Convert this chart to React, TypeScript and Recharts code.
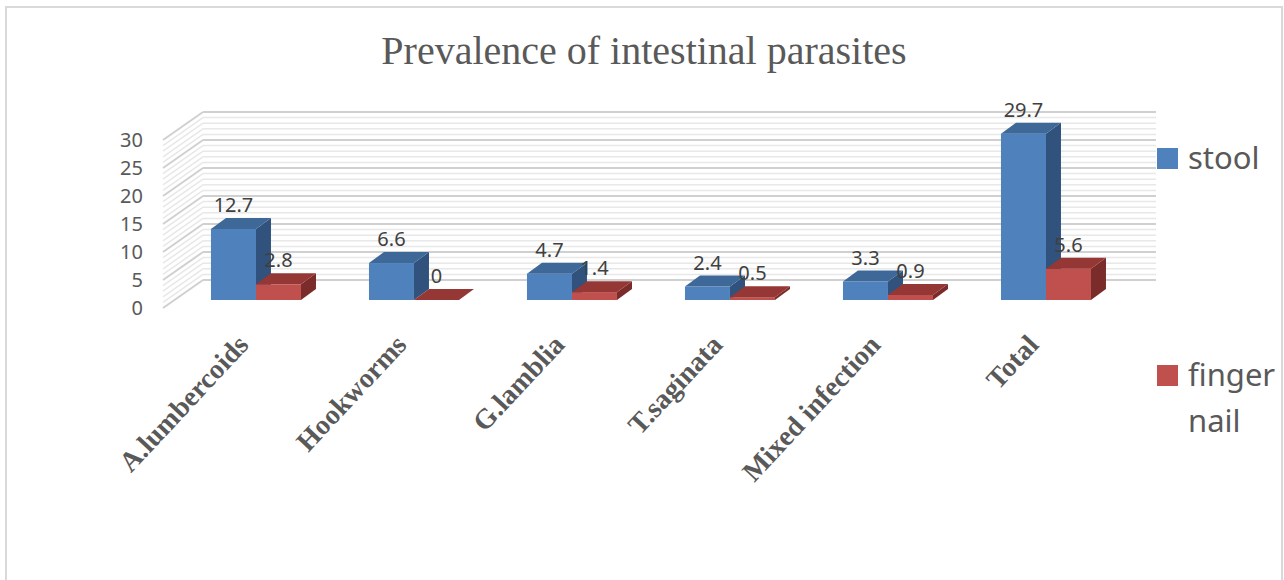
import { BarChart, Bar, XAxis, YAxis, CartesianGrid, LabelList, Legend, ReferenceLine } from 'recharts';

const categories = ['A.lumbercoids', 'Hookworms', 'G.lamblia', 'T.saginata', 'Mixed infection', 'Total'];
const stool = [12.7, 6.6, 4.7, 2.4, 3.3, 29.7];
const fingerNail = [2.8, 0, 1.4, 0.5, 0.9, 5.6];
const yTicks = [0, 5, 10, 15, 20, 25, 30];
const minorTicks = [1, 2, 3, 4, 6, 7, 8, 9, 11, 12, 13, 14, 16, 17, 18, 19, 21, 22, 23, 24, 26, 27, 28, 29];

const data = categories.map((name, i) => ({ name, stool: stool[i], fingerNail: fingerNail[i] }));

const BLUE = { front: '#4f81bd', top: '#3d6898', side: '#30527c' };
const RED = { front: '#c0504d', top: '#943735', side: '#7a2c2b' };
const DX = 15;
const DY = -11;

const makeBar3D = (c: typeof BLUE) => (props: any) => {
  const { x, y, width, height } = props;
  const b = y + height;
  return (
    <g>
      <rect x={x} y={y} width={width} height={Math.max(height, 0)} fill={c.front} />
      <polygon points={`${x + width},${y} ${x + width + DX},${y + DY} ${x + width + DX},${b + DY} ${x + width},${b}`} fill={c.side} />
      <polygon points={`${x},${y} ${x + DX},${y + DY} ${x + width + DX},${y + DY} ${x + width},${y}`} fill={c.top} />
    </g>
  );
};

// back wall + left side wall, shifted off the bar plane
const wallLine = (color: string, w: number) => (p: any) => (
  <g key={p.key}>
    <line x1={p.x1 + 26} y1={p.y1 - 20} x2={p.x2 + 31} y2={p.y1 - 20} stroke={color} strokeWidth={w} />
    <line x1={p.x1 - 14} y1={p.y1 + 8} x2={p.x1 + 26} y2={p.y1 - 20} stroke={color} strokeWidth={w} />
  </g>
);

const YTick = (props: any) => {
  const { x, y, payload } = props;
  return (
    <text x={x} y={y + 8} dy={7} textAnchor="end" fill="#595959" fontSize={20} fontFamily="'Noto Sans', sans-serif">
      {payload.value}
    </text>
  );
};

const XTick = (props: any) => {
  const { x, y, payload } = props;
  return (
    <text
      transform={`translate(${x - 6},${y + 46}) rotate(-47)`}
      textAnchor="end"
      fill="#595959"
      fontSize={28}
      fontWeight="bold"
      fontFamily="'Liberation Serif', serif"
    >
      {payload.value}
    </text>
  );
};

const LegendBox = () => (
  <div style={{ fontFamily: "'Noto Sans', sans-serif", fontSize: 31, color: '#595959', lineHeight: '46px' }}>
    <div style={{ position: 'absolute', left: 1157, top: 134, display: 'flex', alignItems: 'baseline' }}>
      <span style={{ display: 'inline-block', width: 21, height: 21, background: BLUE.front, marginRight: 10 }} />
      <span>stool</span>
    </div>
    <div style={{ position: 'absolute', left: 1157, top: 351, display: 'flex', alignItems: 'baseline' }}>
      <span style={{ display: 'inline-block', width: 21, height: 21, background: RED.front, marginRight: 10 }} />
      <span style={{ width: 100 }}>finger nail</span>
    </div>
  </div>
);

const labelStyle = { fill: '#404040', fontSize: 20, fontFamily: "'Noto Sans', sans-serif" };

export default function App() {
  return (
    <div style={{ position: 'absolute', left: 0, top: 0, width: 1284, height: 580, background: '#fff', overflow: 'hidden' }}>
      <div style={{ position: 'absolute', left: 5, top: 6, width: 1274, height: 620, border: '2px solid #d9d9d9' }} />
      <div
        style={{
          position: 'absolute',
          left: 0,
          top: 27,
          width: 1284,
          textAlign: 'center',
          fontFamily: "'Liberation Serif', serif",
          fontSize: 40,
          color: '#595959',
          paddingLeft: 2,
        }}
      >
        Prevalence of intestinal parasites
      </div>
      <div style={{ position: 'absolute', left: 0, top: 0 }}>
        <BarChart
          width={1284}
          height={580}
          data={data}
          margin={{ top: 132, right: 159, left: 117, bottom: 250 }}
          barCategoryGap="21.5%"
          barGap={0}
        >
          <CartesianGrid yAxisId="left" vertical={false} horizontal={wallLine('#d0d0d0', 2)} />
          {minorTicks.map((v) => (
            <ReferenceLine key={v} yAxisId="left" y={v} zIndex={-1} shape={wallLine('#e8e8e8', 1.5)} />
          ))}
          <XAxis
            dataKey="name"
            height={30}
            tickLine={false}
            axisLine={false}
            tickSize={0}
            tickMargin={0}
            interval={0}
            tick={<XTick />}
          />
          <YAxis
            yAxisId="left"
            width={60}
            domain={[0, 30]}
            ticks={yTicks}
            tickLine={false}
            axisLine={false}
            tickSize={0}
            tickMargin={34}
            tick={<YTick />}
          />
          <Bar yAxisId="left" dataKey="stool" name="stool" fill={BLUE.front} shape={makeBar3D(BLUE)} isAnimationActive={false}>
            <LabelList dataKey="stool" position="top" offset={17} style={labelStyle} />
          </Bar>
          <Bar yAxisId="left" dataKey="fingerNail" name="finger nail" fill={RED.front} shape={makeBar3D(RED)} isAnimationActive={false}>
            <LabelList dataKey="fingerNail" position="top" offset={17} style={labelStyle} />
          </Bar>
          <Legend content={<LegendBox />} wrapperStyle={{ position: 'absolute', left: 0, top: 0, width: 0, height: 0 }} />
        </BarChart>
      </div>
    </div>
  );
}
